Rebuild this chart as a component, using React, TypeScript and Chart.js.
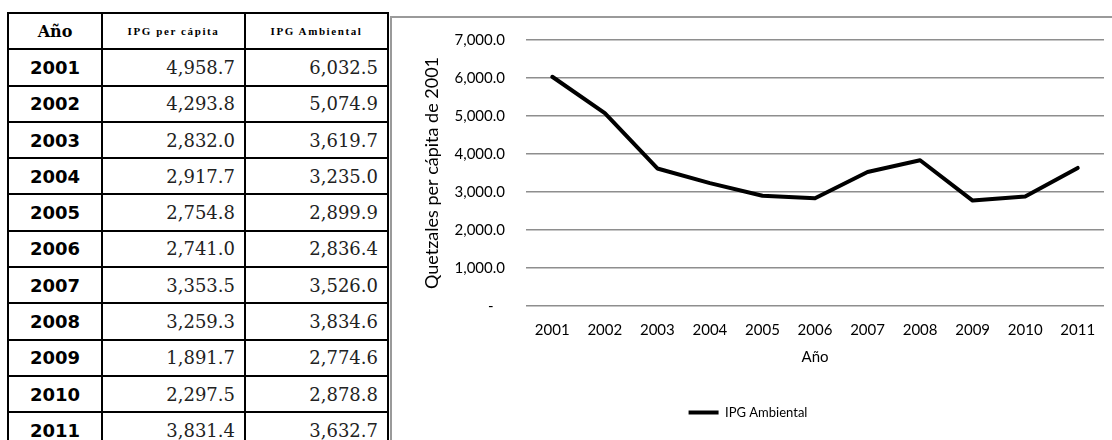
import React, { useEffect, useRef } from "react";
import { Chart, registerables } from "chart.js";

Chart.register(...registerables);

const years = ["2001", "2002", "2003", "2004", "2005", "2006", "2007", "2008", "2009", "2010", "2011"];
const ipgPerCapita = [4958.7, 4293.8, 2832.0, 2917.7, 2754.8, 2741.0, 3353.5, 3259.3, 1891.7, 2297.5, 3831.4];
const ipgAmbiental = [6032.5, 5074.9, 3619.7, 3235.0, 2899.9, 2836.4, 3526.0, 3834.6, 2774.6, 2878.8, 3632.7];
const yTicks = [0, 1000, 2000, 3000, 4000, 5000, 6000, 7000];

const headers = ["Año", "IPG per cápita", "IPG Ambiental"];
const seriesLabel = "IPG Ambiental";
const xTitle = "Año";
const yTitle = "Quetzales per cápita de 2001";

const fmt = (n: number) =>
  n.toLocaleString("en-US", { minimumFractionDigits: 1, maximumFractionDigits: 1 });

const FONT = "Lato";

function DataTable() {
  const cellBorder = "2px solid #000";
  const base: React.CSSProperties = {
    border: cellBorder,
    height: "34.3px",
    padding: 0,
  };
  const valueStyle: React.CSSProperties = {
    ...base,
    textAlign: "right",
    paddingRight: 9,
    fontFamily: "DejaVu Serif",
    fontSize: 18,
    color: "#222",
  };
  return (
    <table
      style={{
        position: "absolute",
        left: 7,
        top: 12,
        borderCollapse: "collapse",
        tableLayout: "fixed",
        width: 382,
        background: "#fff",
      }}
    >
      <colgroup>
        <col style={{ width: 94 }} />
        <col style={{ width: 143 }} />
        <col style={{ width: 143 }} />
      </colgroup>
      <tbody>
        <tr>
          <td
            style={{
              ...base,
              textAlign: "center",
              fontFamily: "DejaVu Serif",
              fontWeight: "bold",
              fontSize: 16,
            }}
          >
            {headers[0]}
          </td>
          {headers.slice(1).map((h) => (
            <td
              key={h}
              style={{
                ...base,
                textAlign: "center",
                fontFamily: "Liberation Serif",
                fontWeight: "bold",
                fontSize: 11,
                letterSpacing: "1.6px",
                whiteSpace: "nowrap",
              }}
            >
              {h}
            </td>
          ))}
        </tr>
        {years.map((y, i) => (
          <tr key={y}>
            <td
              style={{
                ...base,
                textAlign: "center",
                fontFamily: "DejaVu Sans",
                fontWeight: "bold",
                fontSize: 18,
              }}
            >
              {y}
            </td>
            <td style={valueStyle}>{fmt(ipgPerCapita[i])}</td>
            <td style={valueStyle}>{fmt(ipgAmbiental[i])}</td>
          </tr>
        ))}
      </tbody>
    </table>
  );
}

function LineChart() {
  const ref = useRef<HTMLCanvasElement | null>(null);
  useEffect(() => {
    if (!ref.current) return;
    const chart = new Chart(ref.current, {
      type: "line",
      data: {
        labels: years,
        datasets: [
          {
            label: seriesLabel,
            data: ipgAmbiental,
            borderColor: "#000",
            backgroundColor: "#000",
            borderWidth: 4,
            pointRadius: 0,
            pointHoverRadius: 0,
            tension: 0,
            borderCapStyle: "round",
            borderJoinStyle: "round",
          },
        ],
      },
      options: {
        animation: false,
        responsive: false,
        layout: { padding: { top: 22, left: 0, right: 8, bottom: 11 } },
        plugins: {
          tooltip: { enabled: false },
          legend: {
            position: "bottom",
            labels: {
              usePointStyle: true,
              pointStyle: "line",
              pointStyleWidth: 30,
              font: { family: FONT, size: 13 },
              color: "#000",
              padding: 10,
            },
          },
        },
        scales: {
          x: {
            offset: true,
            grid: { display: false, drawTicks: false },
            border: { display: false },
            ticks: {
              color: "#000",
              font: { family: FONT, size: 15 },
              padding: 15,
              maxRotation: 0,
              autoSkip: false,
            },
            title: {
              display: true,
              text: xTitle,
              color: "#000",
              font: { family: FONT, size: 15 },
              padding: { top: -6, bottom: 30 },
            },
          },
          y: {
            min: 0,
            max: 7000,
            afterBuildTicks: (scale: any) => {
              scale.ticks = yTicks.map((v) => ({ value: v }));
            },
            afterFit: (scale: any) => {
              scale.width = 134;
              scale.paddingTop = 0;
              scale.paddingBottom = 0;
            },
            grid: { color: "#8e8e8e", lineWidth: 1.5, drawTicks: false },
            border: { display: false },
            ticks: {
              color: "#000",
              font: { family: FONT, size: 15 },
              padding: 21,
              callback: (v: any) => (Number(v) === 0 ? "-   " : fmt(Number(v))),
            },
            title: {
              display: true,
              text: yTitle,
              color: "#000",
              font: { family: FONT, size: 18 },
              padding: { top: 29, bottom: 0 },
            },
          },
        },
      },
    });
    return () => chart.destroy();
  }, []);
  return <canvas ref={ref} width={720} height={422} style={{ display: "block" }} />;
}

export default function App() {
  return (
    <div
      style={{
        position: "fixed",
        left: 0,
        top: 0,
        width: 1112,
        height: 440,
        overflow: "hidden",
        background: "#fff",
      }}
    >
      <DataTable />
      <div
        style={{
          position: "absolute",
          left: 390,
          top: 16,
          width: 740,
          height: 440,
          borderLeft: "2px solid #9a9a9a",
          borderTop: "2px solid #9a9a9a",
          background: "#fff",
        }}
      >
        <LineChart />
      </div>
    </div>
  );
}
